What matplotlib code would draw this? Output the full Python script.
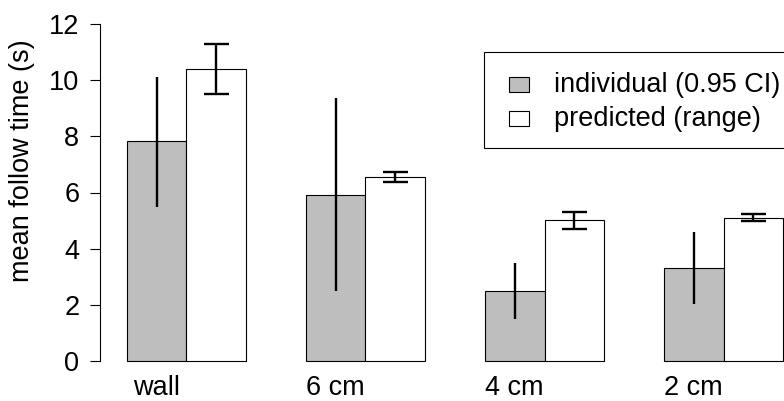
import matplotlib
matplotlib.use("Agg")
import matplotlib.pyplot as plt
from matplotlib.patches import Rectangle
from matplotlib.transforms import Affine2D
import numpy as np

# Mean follow time per condition
conditions = ["wall", "6 cm", "4 cm", "2 cm"]
individual_mean = [7.82, 5.92, 2.49, 3.32]
individual_lo = [5.50, 2.49, 1.48, 2.03]
individual_hi = [10.13, 9.35, 3.50, 4.60]
predicted_mean = [10.40, 6.55, 5.01, 5.10]
predicted_lo = [9.50, 6.39, 4.71, 4.99]
predicted_hi = [11.30, 6.72, 5.31, 5.23]
yticks = [0, 2, 4, 6, 8, 10, 12]
legend_labels = ["individual (0.95 CI)", "predicted (range)"]
bar_colors = ["#BEBEBE", "white"]

plt.rcParams["font.family"] = ["Liberation Sans", "DejaVu Sans"]
FS = 19.5

W, H = 784, 401
fig = plt.figure(figsize=(W / 100, H / 100), dpi=100)
# plot region (in pixels: left 100.4, right 809.6, top 10.5, bottom 374.5)
ax = fig.add_axes([100.4 / W, (H - 374.5) / H, (809.6 - 100.4) / W, (374.5 - 10.5) / H])

n = len(conditions)
# grouped bars: width 1, one unit gap before each group
left_gray = np.array([1 + 3 * i for i in range(n)], dtype=float)
x_ind = left_gray + 0.5
x_pred = left_gray + 1.5

ax.bar(x_ind, individual_mean, width=1.0, color=bar_colors[0], edgecolor="black", linewidth=0.8)
ax.bar(x_pred, predicted_mean, width=1.0, color=bar_colors[1], edgecolor="black", linewidth=0.8)

ind_mean = np.array(individual_mean)
ax.errorbar(x_ind, ind_mean,
            yerr=[ind_mean - np.array(individual_lo), np.array(individual_hi) - ind_mean],
            fmt="none", ecolor="black", elinewidth=1.7, capsize=0)
pred_mean = np.array(predicted_mean)
ax.errorbar(x_pred, pred_mean,
            yerr=[pred_mean - np.array(predicted_lo), np.array(predicted_hi) - pred_mean],
            fmt="none", ecolor="black", elinewidth=1.7, capsize=9, capthick=1.7)

ax.set_xlim(0.56, 12.44)
ax.set_ylim(-0.48, 12.48)

for s in ["top", "right", "bottom"]:
    ax.spines[s].set_visible(False)
ax.spines["left"].set_bounds(0, 12)
ax.spines["left"].set_linewidth(0.8)
ax.set_yticks(yticks)
ax.set_yticklabels([str(t) for t in yticks], fontsize=FS)
ax.tick_params(axis="y", length=7.2, width=0.8, pad=8)
ax.set_xticks([])

# group names under the grey bars
for xc, lab in zip(x_ind, conditions):
    px = ax.transData.transform((xc, 0))[0]
    fig.text(px / W, (H - 395) / H, lab, fontsize=FS, ha="center", va="baseline")

fig.text(22 / W, 1 - 161 / H, "mean follow time (s)", fontsize=FS,
         rotation=90, ha="center", va="center")

# legend box drawn in pixel coordinates (top-left origin)
pix = Affine2D().scale(1.0 / W, -1.0 / H).translate(0, 1) + fig.transFigure
fig.patches.append(Rectangle((484.3, 51.7), 340, 96.5, transform=pix, facecolor="white",
                             edgecolor="black", linewidth=0.8, zorder=5))
row_center = [84.2, 118.2]
for lab, col, yc in zip(legend_labels, bar_colors, row_center):
    fig.patches.append(Rectangle((509, yc - 7.5), 20.3, 15, transform=pix, facecolor=col,
                                 edgecolor="black", linewidth=0.8, zorder=6))
    fig.text(554 / W, 1 - (yc + 7.5) / H, lab, fontsize=FS, ha="left", va="baseline", zorder=7)

fig.savefig("out.png", dpi=100)
